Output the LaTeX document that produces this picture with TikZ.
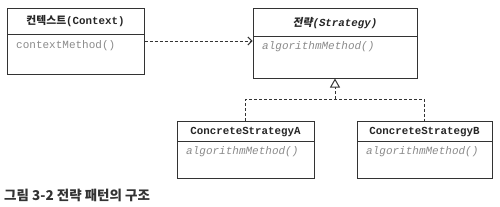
\documentclass[tikz,border=0pt]{standalone}
\usepackage{fontspec}
\setmonofont{Liberation Mono}
\newfontfamily\kr{Noto Sans CJK KR}
\newfontfamily\krsl[FakeSlant=0.2]{Noto Sans CJK KR}
\usetikzlibrary{arrows.meta}
\definecolor{edge}{HTML}{333333}
\definecolor{meth}{HTML}{8A8A8A}
\tikzset{
  classbox/.style={draw=edge, line width=1pt, rectangle, inner sep=0pt},
  divider/.style={draw=edge, line width=0.8pt},
  hdr/.style={font=\fontsize{10.8}{12}\selectfont\ttfamily\bfseries, text=black!85, inner sep=0pt},
  mth/.style={font=\fontsize{11}{12}\selectfont\ttfamily, text=meth, inner sep=0pt, anchor=west},
  mthi/.style={mth, font=\fontsize{11}{12}\selectfont\ttfamily\itshape},
  dashline/.style={draw=edge, line width=1pt, dash pattern=on 3pt off 2pt},
}
\begin{document}
\begin{tikzpicture}[x=1pt,y=-1pt]
\useasboundingbox (0,0) rectangle (500,206);
% Context
\node[classbox, minimum width=137pt, minimum height=66pt] (ctx) at (75.5,41) {};
\draw[divider] (7,34) -- (144,34);
\node[hdr] (ctxh) at (75.5,21) {{\kr\bfseries 컨텍스트}(Context)};
\node[mth] (ctxm) at (16,46) {contextMethod()};
% Strategy
\node[classbox, minimum width=164pt, minimum height=70pt] (str) at (335,43) {};
\draw[divider] (253,36) -- (417,36);
\node[hdr] (strh) at (335,23) {{\krsl\bfseries 전략}\textit{(Strategy)}};
\node[mthi] (strm) at (262,47) {algorithmMethod()};
% Concrete A
\node[classbox, minimum width=137pt, minimum height=57pt] (ca) at (245.5,149.5) {};
\draw[divider] (177,141) -- (314,141);
\node[hdr] (cah) at (245.5,132) {ConcreteStrategyA};
\node[mthi] (cam) at (186,152) {algorithmMethod()};
% Concrete B
\node[classbox, minimum width=135pt, minimum height=57pt] (cb) at (424.5,149.5) {};
\draw[divider] (357,141) -- (492,141);
\node[hdr] (cbh) at (424.5,132) {ConcreteStrategyB};
\node[mthi] (cbm) at (366,152) {algorithmMethod()};
% dependency arrow
\draw[dashline, -{Straight Barb[length=4pt,width=8pt]}] (ctx.east |- 0,41) -- (str.west |- 0,41);
% realization
\coordinate (junc) at (str.south |- 0,99);
\draw[dashline] (ca.north) -- (ca.north |- junc) -- (cb.north |- junc) -- (cb.north);
\draw[dashline, -{Triangle[open,length=9pt,width=10pt,fill=white]}] (junc) -- (str.south);
% caption
\node[font=\kr\bfseries\fontsize{13.5}{15}\selectfont, anchor=west, inner sep=0pt, text=black!80] (cap) at (4,195) {그림 3-2 전략 패턴의 구조};
\end{tikzpicture}
\end{document}
